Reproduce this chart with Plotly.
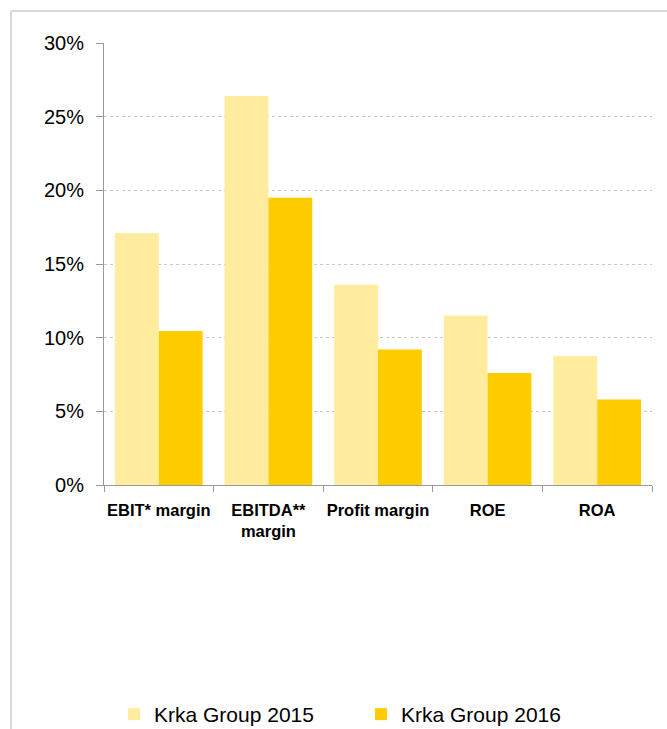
import plotly.graph_objects as go

categories = ["EBIT* margin", "EBITDA**<br>margin", "Profit margin", "ROE", "ROA"]
values_2015 = [17.1, 26.4, 13.6, 11.5, 8.75]
values_2016 = [10.45, 19.5, 9.2, 7.6, 5.8]
series_names = ["Krka Group 2015", "Krka Group 2016"]
tick_vals = [0, 5, 10, 15, 20, 25, 30]
tick_text = ["0%", "5%", "10%", "15%", "20%", "25%", "30%"]

FONT = "Liberation Sans, Arial, sans-serif"

fig = go.Figure()
fig.add_trace(go.Bar(x=categories, y=values_2015, name=series_names[0],
                     marker=dict(color="#FFEC9E", line=dict(width=0))))
fig.add_trace(go.Bar(x=categories, y=values_2016, name=series_names[1],
                     marker=dict(color="#FFCC00", line=dict(width=0))))

W, H = 667, 729
L, R, T, B = 104, 15, 43, 244
pw, ph = W - L - R, H - T - B

fig.update_layout(
    width=W, height=H,
    margin=dict(l=L, r=R, t=T, b=B, autoexpand=False),
    paper_bgcolor="white", plot_bgcolor="white",
    barmode="group", bargap=0.2, bargroupgap=0,
    font=dict(family=FONT, color="black"),
    showlegend=True,
    legend=dict(orientation="h", x=(114 - L) / pw, y=(485 - 694) / ph,
                xanchor="left", yanchor="top",
                font=dict(size=21, family=FONT), itemwidth=30,
                traceorder="normal", entrywidth=202, entrywidthmode="pixels"),
    xaxis=dict(showline=True, linecolor="#999999", linewidth=1,
               ticks="outside", ticklen=6, tickcolor="#999999",
               tickson="boundaries", showgrid=False, tickangle=0,
               automargin=False, ticklabelstandoff=10,
               tickfont=dict(size=16.5, family=FONT, weight="bold")),
    yaxis=dict(range=[0, 30], tickvals=tick_vals, ticktext=tick_text,
               showline=True, linecolor="#999999", linewidth=1,
               ticks="outside", ticklen=7, tickcolor="#999999",
               showgrid=True, gridcolor="#C8C8C8", griddash="dot", gridwidth=1,
               zeroline=False, automargin=False, ticklabelstandoff=8,
               tickfont=dict(size=20, family=FONT)),
)

# outer frame (top and left edges visible in reference)
fig.add_shape(type="line", xref="paper", yref="paper",
              x0=(11 - L) / pw, x1=(W + 20 - L) / pw,
              y0=1 + (T - 11) / ph, y1=1 + (T - 11) / ph,
              line=dict(color="#D9D9D9", width=2), layer="below")
fig.add_shape(type="line", xref="paper", yref="paper",
              x0=(11 - L) / pw, x1=(11 - L) / pw,
              y0=1 + (T - 11) / ph, y1=(485 - (H + 20)) / ph,
              line=dict(color="#D9D9D9", width=2), layer="below")

fig.write_html("out.html")
